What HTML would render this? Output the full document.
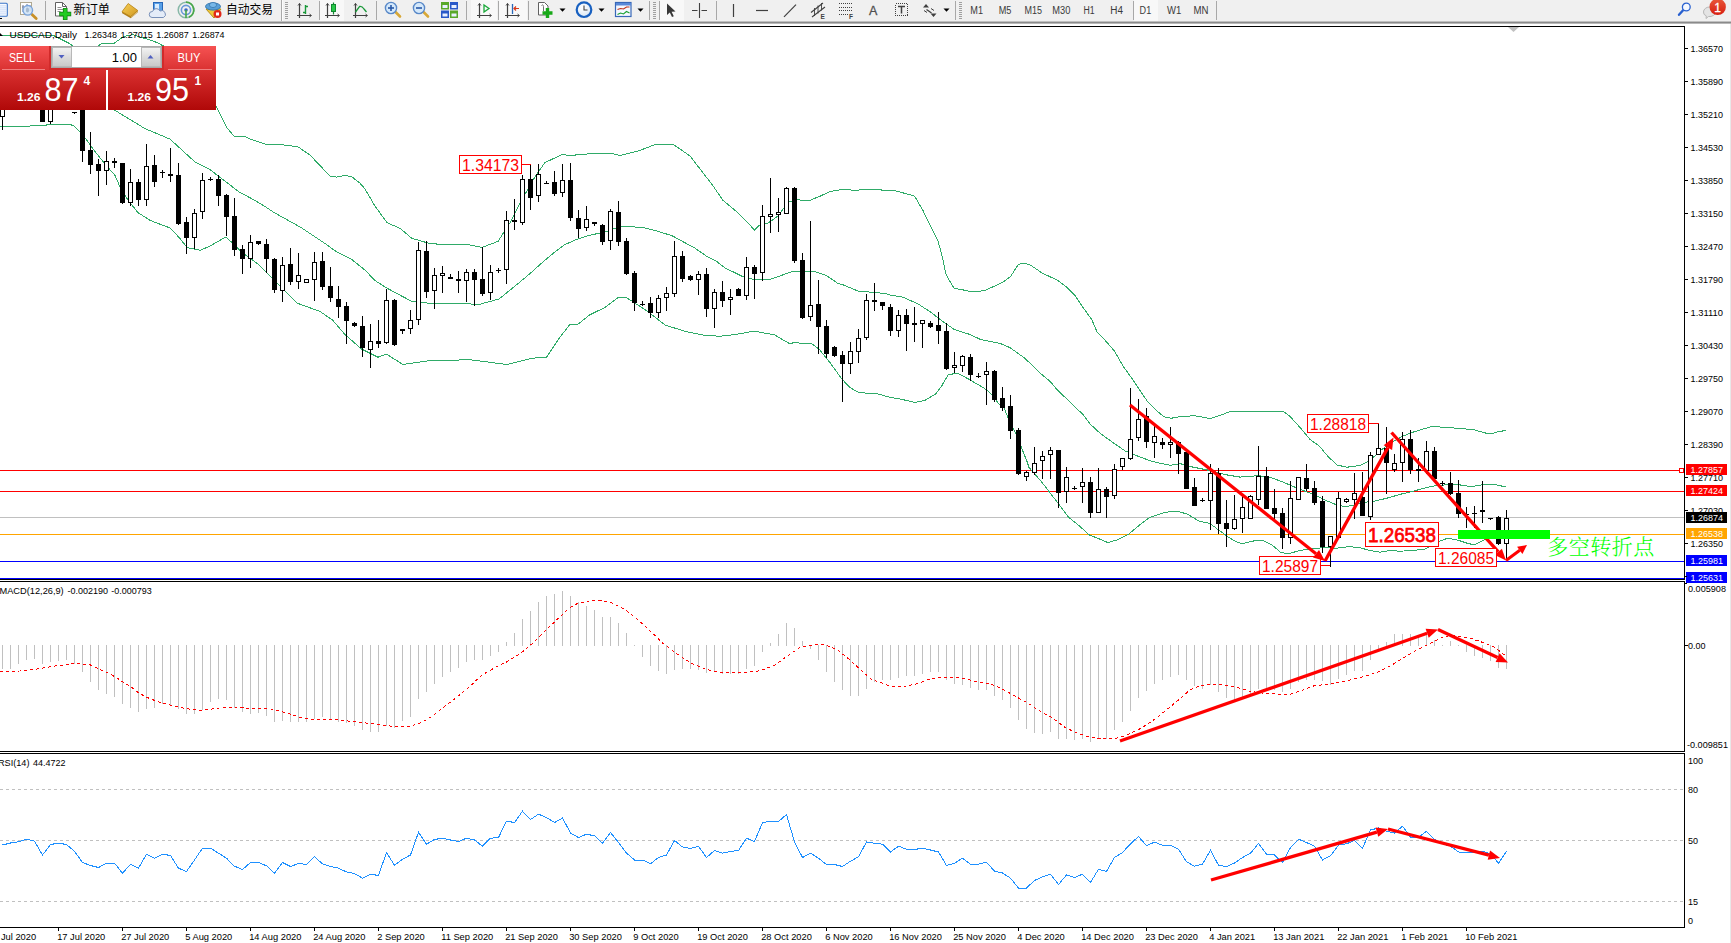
<!DOCTYPE html>
<html lang="zh"><head><meta charset="utf-8"><title>USDCAD Daily</title>
<style>
html,body{margin:0;padding:0;background:#fff;}
body{width:1731px;height:943px;overflow:hidden;font-family:"Liberation Sans","Noto Sans CJK SC",sans-serif;}
svg{display:block;position:absolute;left:0;top:0;}
text{font-family:"Liberation Sans","Noto Sans CJK SC",sans-serif;}
.ax{font-size:9px;fill:#000;}
.tf{font-size:10px;fill:#3a3a3a;}
.cj{font-family:"Liberation Sans","Noto Sans CJK SC",sans-serif;font-size:12px;fill:#000;}
.lbl{fill:#ff0000;}
.crisp{shape-rendering:crispEdges;}
</style></head><body>
<svg width="1731" height="943" viewBox="0 0 1731 943">
<defs>
<linearGradient id="gSell" x1="0" y1="0" x2="0" y2="1"><stop offset="0" stop-color="#f65252"/><stop offset="1" stop-color="#da3232"/></linearGradient>
<linearGradient id="gPrice" x1="0" y1="0" x2="0" y2="1"><stop offset="0" stop-color="#d93030"/><stop offset="1" stop-color="#b00808"/></linearGradient>
<linearGradient id="gBtn" x1="0" y1="0" x2="0" y2="1"><stop offset="0" stop-color="#f4f4f4"/><stop offset="0.5" stop-color="#dcdcdc"/><stop offset="1" stop-color="#c8c8c8"/></linearGradient>
<linearGradient id="gBadge" x1="0" y1="0" x2="0" y2="1"><stop offset="0" stop-color="#e8583a"/><stop offset="1" stop-color="#d81e10"/></linearGradient>
<linearGradient id="gBook" x1="0" y1="0" x2="1" y2="1"><stop offset="0" stop-color="#f8d058"/><stop offset="1" stop-color="#d09820"/></linearGradient>
<radialGradient id="gClock" cx="0.4" cy="0.35" r="0.7"><stop offset="0" stop-color="#ffffff"/><stop offset="1" stop-color="#d8e6f4"/></radialGradient>
</defs>
<rect x="0" y="0" width="1731" height="943" fill="#ffffff"/>

<g id="main">
<g class="crisp">
<rect x="0" y="470" width="1684" height="1" fill="#ff0000" />
<rect x="0" y="491" width="1684" height="1" fill="#ff0000" />
<rect x="0" y="517" width="1684" height="1" fill="#c0c0c0" />
<rect x="0" y="534" width="1684" height="1" fill="#ffa500" />
<rect x="0" y="561" width="1684" height="1" fill="#0000ff" />
<rect x="0" y="578" width="1684" height="1" fill="#0000ff" />
</g>
<polyline points="0.0,35.3 53.0,35.3 69.0,43.3 74.0,46.6 97.0,46.6 102.0,43.3 114.0,43.3 123.6,36.6 133.0,34.6 143.5,38.0 154.0,41.3 158.8,43.5 180.0,55.0 200.0,78.0 212.0,98.0 218.0,109.6 227.0,128.0 234.0,136.0 245.0,136.5 250.0,139.1 265.0,144.0 282.0,144.7 298.0,146.8 310.0,155.1 322.0,167.6 330.0,176.3 337.0,177.1 345.0,175.3 352.0,176.9 360.0,183.2 365.0,189.0 375.0,206.1 387.0,222.7 400.0,228.3 412.0,238.5 420.0,240.6 430.0,243.7 447.0,244.5 465.0,244.1 482.0,247.4 498.0,241.4 510.0,222.7 520.0,202.9 535.0,176.9 545.0,162.4 552.0,159.3 562.0,154.5 570.0,155.5 590.0,153.7 612.0,153.5 620.0,155.4 640.0,150.4 655.0,144.6 673.6,144.6 690.0,156.0 713.0,185.8 722.9,200.3 738.0,212.8 754.5,229.9 759.0,225.3 768.0,223.2 778.0,215.9 788.0,202.4 796.0,199.9 810.0,200.3 820.0,196.2 830.0,191.6 842.0,189.5 856.0,190.3 865.0,189.5 894.0,190.4 905.0,193.4 914.6,196.1 923.0,210.6 931.0,226.8 938.0,241.2 942.0,255.6 945.8,273.6 948.0,278.2 954.0,288.3 962.0,289.7 969.2,291.2 980.0,291.2 986.0,290.0 1003.0,282.2 1010.7,276.3 1018.4,264.3 1025.0,263.2 1031.4,265.7 1042.2,273.1 1057.6,280.3 1066.6,287.2 1075.6,296.2 1082.0,306.1 1091.8,319.6 1097.2,332.2 1104.4,339.5 1114.5,351.1 1122.8,365.7 1133.2,380.2 1140.0,390.4 1147.0,400.8 1156.0,410.2 1164.0,416.8 1171.0,418.3 1181.0,416.4 1195.0,415.8 1210.0,418.5 1220.0,415.4 1230.0,411.6 1250.0,411.2 1283.0,411.2 1290.0,416.4 1300.0,427.4 1310.0,439.5 1319.0,445.7 1328.0,456.5 1337.0,465.0 1347.0,467.2 1360.0,465.5 1370.0,460.5 1381.0,450.1 1391.0,442.8 1402.0,436.6 1410.0,433.1 1425.0,428.5 1433.0,426.2 1442.0,427.2 1458.0,428.3 1474.0,429.7 1483.0,432.4 1490.0,434.1 1498.0,431.8 1506.0,430.4" fill="none" stroke="#2fab68" stroke-width="1" shape-rendering="crispEdges"/>
<polyline points="105.0,104.0 118.0,112.2 145.0,128.6 170.0,139.1 195.0,162.0 210.0,169.7 220.0,177.3 240.0,192.6 250.0,197.7 262.0,204.6 275.0,213.1 300.0,226.9 325.0,243.5 335.0,250.8 352.0,259.7 365.0,270.1 375.0,280.5 387.0,288.2 411.0,301.0 428.0,303.1 480.0,304.2 499.0,299.0 515.0,286.1 530.0,273.6 545.0,260.1 557.0,250.3 565.0,244.5 578.0,238.9 590.0,235.2 607.0,231.5 620.0,226.3 643.0,227.4 657.0,231.1 672.0,235.7 695.0,248.2 707.0,256.5 717.0,261.7 725.0,267.9 742.0,276.2 755.0,280.0 770.0,279.4 779.0,276.4 790.0,272.1 800.0,271.3 815.0,271.7 826.0,275.2 838.0,283.5 842.0,284.4 858.0,291.0 872.0,292.3 886.0,293.5 890.0,295.0 903.0,297.2 907.0,299.1 917.0,303.3 930.0,311.6 942.0,321.0 954.0,329.3 970.0,334.5 981.0,339.7 1000.0,343.4 1010.0,347.6 1025.0,358.4 1040.0,372.9 1050.0,381.3 1057.0,389.6 1070.0,402.0 1083.0,414.6 1090.0,423.9 1100.0,433.2 1113.0,442.6 1125.0,450.9 1135.0,455.1 1150.0,460.7 1160.0,463.2 1170.0,465.3 1180.0,463.6 1192.0,466.9 1210.0,470.5 1225.0,474.6 1240.0,477.1 1258.0,475.7 1270.0,477.1 1285.0,482.9 1300.0,489.4 1313.0,494.1 1325.0,500.0 1337.0,505.1 1346.0,506.7 1356.0,504.6 1365.0,502.3 1375.0,501.1 1388.0,497.9 1400.0,494.4 1415.0,490.7 1425.0,488.0 1435.0,485.7 1445.0,484.9 1458.0,484.6 1470.0,486.5 1478.0,485.7 1486.0,484.0 1492.0,484.0 1500.0,485.7 1506.0,486.9" fill="none" stroke="#2fab68" stroke-width="1" shape-rendering="crispEdges"/>
<polyline points="0.0,126.5 43.0,125.8 50.0,124.2 69.0,124.2 74.0,125.8 84.0,136.3 95.0,151.5 105.0,164.0 115.0,175.4 120.0,186.9 128.0,200.2 138.0,212.6 150.0,220.3 162.0,225.0 170.0,227.9 180.0,238.4 187.0,247.6 200.0,250.3 210.0,246.1 226.0,236.9 243.0,253.2 257.4,263.6 272.0,278.2 297.0,303.1 319.8,311.4 332.3,319.8 344.8,334.3 361.4,348.9 378.0,357.2 386.4,354.1 403.0,364.5 428.0,360.9 469.6,359.7 507.0,364.5 532.0,358.2 546.5,357.2 559.0,338.5 569.4,325.0 578.0,324.2 590.0,314.7 605.0,307.4 618.0,297.6 626.0,297.4 632.0,301.2 648.0,311.6 665.0,325.0 685.0,331.3 705.0,335.5 720.0,336.2 735.0,334.5 743.0,333.2 754.0,331.1 775.0,335.0 783.0,340.0 790.0,343.8 795.0,342.2 803.0,343.8 811.0,343.2 819.0,349.0 830.0,362.6 842.0,379.2 850.0,387.5 859.0,392.7 877.0,393.7 890.0,397.3 902.0,399.4 915.0,402.5 925.0,400.4 936.0,393.7 942.0,385.4 948.0,375.0 957.0,373.0 967.0,378.2 983.0,387.5 990.0,392.7 1000.0,405.2 1004.0,408.0 1009.0,419.8 1014.6,431.0 1018.0,438.5 1022.0,449.0 1027.0,461.4 1029.0,467.4 1041.6,481.9 1056.0,500.6 1068.6,517.3 1079.0,525.6 1089.4,535.0 1099.8,539.1 1108.0,542.6 1116.5,540.1 1129.0,533.9 1141.4,523.5 1149.8,517.3 1164.3,512.5 1176.8,511.0 1187.2,514.1 1199.7,521.4 1210.0,523.5 1218.4,529.8 1226.7,536.0 1235.0,541.2 1242.3,543.9 1251.7,541.2 1262.0,540.1 1272.5,545.3 1280.8,552.6 1289.0,553.7 1299.5,550.5 1312.0,548.7 1324.5,547.6 1337.0,548.2 1349.4,546.6 1360.0,547.8 1370.0,550.5 1380.0,552.2 1390.0,550.5 1400.0,551.2 1413.0,550.5 1425.0,549.1 1433.0,544.7 1441.0,540.6 1448.0,538.1 1458.0,540.2 1468.0,543.5 1474.0,544.7 1480.0,542.2 1486.0,538.7 1496.0,536.0 1506.0,535.0" fill="none" stroke="#2fab68" stroke-width="1" shape-rendering="crispEdges"/>
<g class="crisp">
<rect x="2" y="100" width="1" height="30" fill="#000" />
<rect x="0.5" y="105.5" width="4" height="11" fill="#fff" stroke="#000" stroke-width="1"/>
<rect x="42" y="105" width="1" height="17" fill="#000" />
<rect x="40" y="105" width="5" height="17" fill="#000" />
<rect x="50" y="105" width="1" height="19" fill="#000" />
<rect x="48.5" y="105.5" width="4" height="16" fill="#fff" stroke="#000" stroke-width="1"/>
<rect x="74" y="112" width="1" height="2" fill="#000" />
<rect x="72" y="112" width="5" height="1" fill="#000" />
<rect x="82" y="100" width="1" height="62" fill="#000" />
<rect x="80" y="100" width="5" height="51" fill="#000" />
<rect x="90" y="132" width="1" height="42" fill="#000" />
<rect x="88" y="150" width="5" height="15" fill="#000" />
<rect x="98" y="159" width="1" height="37" fill="#000" />
<rect x="96" y="164" width="5" height="7" fill="#000" />
<rect x="106" y="151" width="1" height="34" fill="#000" />
<rect x="104.5" y="161.5" width="4" height="9" fill="#fff" stroke="#000" stroke-width="1"/>
<rect x="114" y="158" width="1" height="10" fill="#000" />
<rect x="112" y="161" width="5" height="2" fill="#000" />
<rect x="122" y="163" width="1" height="41" fill="#000" />
<rect x="120" y="163" width="5" height="40" fill="#000" />
<rect x="130" y="169" width="1" height="37" fill="#000" />
<rect x="128.5" y="182.5" width="4" height="20" fill="#fff" stroke="#000" stroke-width="1"/>
<rect x="138" y="179" width="1" height="27" fill="#000" />
<rect x="136" y="182" width="5" height="18" fill="#000" />
<rect x="146" y="144" width="1" height="62" fill="#000" />
<rect x="144.5" y="166.5" width="4" height="33" fill="#fff" stroke="#000" stroke-width="1"/>
<rect x="154" y="155" width="1" height="32" fill="#000" />
<rect x="152" y="165" width="5" height="17" fill="#000" />
<rect x="162" y="170" width="1" height="8" fill="#000" />
<rect x="160" y="172" width="5" height="1" fill="#000" />
<rect x="170" y="148" width="1" height="34" fill="#000" />
<rect x="168" y="174" width="5" height="2" fill="#000" />
<rect x="178" y="163" width="1" height="62" fill="#000" />
<rect x="176" y="175" width="5" height="49" fill="#000" />
<rect x="186" y="217" width="1" height="37" fill="#000" />
<rect x="184" y="222" width="5" height="16" fill="#000" />
<rect x="194" y="209" width="1" height="40" fill="#000" />
<rect x="192.5" y="213.5" width="4" height="24" fill="#fff" stroke="#000" stroke-width="1"/>
<rect x="202" y="173" width="1" height="46" fill="#000" />
<rect x="200.5" y="180.5" width="4" height="31" fill="#fff" stroke="#000" stroke-width="1"/>
<rect x="210" y="177" width="1" height="4" fill="#000" />
<rect x="208" y="179" width="5" height="1" fill="#000" />
<rect x="218" y="175" width="1" height="31" fill="#000" />
<rect x="216" y="179" width="5" height="17" fill="#000" />
<rect x="226" y="194" width="1" height="42" fill="#000" />
<rect x="224" y="195" width="5" height="22" fill="#000" />
<rect x="234" y="198" width="1" height="58" fill="#000" />
<rect x="232" y="216" width="5" height="34" fill="#000" />
<rect x="242" y="245" width="1" height="29" fill="#000" />
<rect x="240" y="249" width="5" height="10" fill="#000" />
<rect x="250" y="235" width="1" height="33" fill="#000" />
<rect x="248.5" y="242.5" width="4" height="16" fill="#fff" stroke="#000" stroke-width="1"/>
<rect x="258" y="241" width="1" height="4" fill="#000" />
<rect x="256" y="241" width="5" height="3" fill="#000" />
<rect x="266" y="239" width="1" height="34" fill="#000" />
<rect x="264" y="244" width="5" height="15" fill="#000" />
<rect x="274" y="258" width="1" height="35" fill="#000" />
<rect x="272" y="259" width="5" height="31" fill="#000" />
<rect x="282" y="257" width="1" height="45" fill="#000" />
<rect x="280.5" y="265.5" width="4" height="25" fill="#fff" stroke="#000" stroke-width="1"/>
<rect x="290" y="248" width="1" height="37" fill="#000" />
<rect x="288" y="264" width="5" height="18" fill="#000" />
<rect x="298" y="253" width="1" height="36" fill="#000" />
<rect x="296.5" y="275.5" width="4" height="6" fill="#fff" stroke="#000" stroke-width="1"/>
<rect x="306" y="279" width="1" height="4" fill="#000" />
<rect x="304.5" y="279.5" width="4" height="3" fill="#fff" stroke="#000" stroke-width="1"/>
<rect x="314" y="252" width="1" height="49" fill="#000" />
<rect x="312.5" y="262.5" width="4" height="17" fill="#fff" stroke="#000" stroke-width="1"/>
<rect x="322" y="252" width="1" height="38" fill="#000" />
<rect x="320" y="261" width="5" height="26" fill="#000" />
<rect x="330" y="267" width="1" height="35" fill="#000" />
<rect x="328" y="286" width="5" height="12" fill="#000" />
<rect x="338" y="286" width="1" height="32" fill="#000" />
<rect x="336" y="299" width="5" height="8" fill="#000" />
<rect x="346" y="302" width="1" height="42" fill="#000" />
<rect x="344" y="306" width="5" height="15" fill="#000" />
<rect x="354" y="322" width="1" height="5" fill="#000" />
<rect x="352" y="323" width="5" height="3" fill="#000" />
<rect x="362" y="316" width="1" height="41" fill="#000" />
<rect x="360" y="326" width="5" height="22" fill="#000" />
<rect x="370" y="324" width="1" height="44" fill="#000" />
<rect x="368.5" y="341.5" width="4" height="8" fill="#fff" stroke="#000" stroke-width="1"/>
<rect x="378" y="320" width="1" height="28" fill="#000" />
<rect x="376" y="341" width="5" height="3" fill="#000" />
<rect x="386" y="289" width="1" height="55" fill="#000" />
<rect x="384.5" y="300.5" width="4" height="42" fill="#fff" stroke="#000" stroke-width="1"/>
<rect x="394" y="299" width="1" height="47" fill="#000" />
<rect x="392" y="300" width="5" height="45" fill="#000" />
<rect x="402" y="329" width="1" height="5" fill="#000" />
<rect x="400" y="329" width="5" height="2" fill="#000" />
<rect x="410" y="310" width="1" height="24" fill="#000" />
<rect x="408.5" y="320.5" width="4" height="8" fill="#fff" stroke="#000" stroke-width="1"/>
<rect x="418" y="242" width="1" height="83" fill="#000" />
<rect x="416.5" y="250.5" width="4" height="69" fill="#fff" stroke="#000" stroke-width="1"/>
<rect x="426" y="241" width="1" height="57" fill="#000" />
<rect x="424" y="251" width="5" height="41" fill="#000" />
<rect x="434" y="268" width="1" height="41" fill="#000" />
<rect x="432.5" y="275.5" width="4" height="15" fill="#fff" stroke="#000" stroke-width="1"/>
<rect x="442" y="266" width="1" height="27" fill="#000" />
<rect x="440.5" y="273.5" width="4" height="2" fill="#fff" stroke="#000" stroke-width="1"/>
<rect x="450" y="274" width="1" height="5" fill="#000" />
<rect x="448" y="277" width="5" height="2" fill="#000" />
<rect x="458" y="271" width="1" height="22" fill="#000" />
<rect x="456" y="279" width="5" height="2" fill="#000" />
<rect x="466" y="269" width="1" height="33" fill="#000" />
<rect x="464.5" y="272.5" width="4" height="8" fill="#fff" stroke="#000" stroke-width="1"/>
<rect x="474" y="269" width="1" height="37" fill="#000" />
<rect x="472" y="272" width="5" height="8" fill="#000" />
<rect x="482" y="247" width="1" height="49" fill="#000" />
<rect x="480" y="279" width="5" height="15" fill="#000" />
<rect x="490" y="265" width="1" height="35" fill="#000" />
<rect x="488.5" y="272.5" width="4" height="20" fill="#fff" stroke="#000" stroke-width="1"/>
<rect x="498" y="268" width="1" height="5" fill="#000" />
<rect x="496" y="270" width="5" height="1" fill="#000" />
<rect x="506" y="211" width="1" height="73" fill="#000" />
<rect x="504.5" y="220.5" width="4" height="49" fill="#fff" stroke="#000" stroke-width="1"/>
<rect x="514" y="199" width="1" height="31" fill="#000" />
<rect x="512" y="220" width="5" height="2" fill="#000" />
<rect x="522" y="175" width="1" height="50" fill="#000" />
<rect x="520.5" y="179.5" width="4" height="43" fill="#fff" stroke="#000" stroke-width="1"/>
<rect x="530" y="164" width="1" height="46" fill="#000" />
<rect x="528" y="179" width="5" height="19" fill="#000" />
<rect x="538" y="164" width="1" height="38" fill="#000" />
<rect x="536.5" y="174.5" width="4" height="21" fill="#fff" stroke="#000" stroke-width="1"/>
<rect x="546" y="181" width="1" height="3" fill="#000" />
<rect x="544" y="183" width="5" height="1" fill="#000" />
<rect x="554" y="171" width="1" height="25" fill="#000" />
<rect x="552" y="182" width="5" height="12" fill="#000" />
<rect x="562" y="164" width="1" height="33" fill="#000" />
<rect x="560.5" y="180.5" width="4" height="12" fill="#fff" stroke="#000" stroke-width="1"/>
<rect x="570" y="163" width="1" height="58" fill="#000" />
<rect x="568" y="180" width="5" height="38" fill="#000" />
<rect x="578" y="210" width="1" height="28" fill="#000" />
<rect x="576" y="218" width="5" height="11" fill="#000" />
<rect x="586" y="206" width="1" height="25" fill="#000" />
<rect x="584.5" y="219.5" width="4" height="8" fill="#fff" stroke="#000" stroke-width="1"/>
<rect x="594" y="222" width="1" height="4" fill="#000" />
<rect x="592" y="222" width="5" height="2" fill="#000" />
<rect x="602" y="224" width="1" height="21" fill="#000" />
<rect x="600" y="225" width="5" height="17" fill="#000" />
<rect x="610" y="209" width="1" height="41" fill="#000" />
<rect x="608.5" y="211.5" width="4" height="29" fill="#fff" stroke="#000" stroke-width="1"/>
<rect x="618" y="201" width="1" height="45" fill="#000" />
<rect x="616" y="212" width="5" height="30" fill="#000" />
<rect x="626" y="238" width="1" height="37" fill="#000" />
<rect x="624" y="241" width="5" height="33" fill="#000" />
<rect x="634" y="271" width="1" height="40" fill="#000" />
<rect x="632" y="273" width="5" height="30" fill="#000" />
<rect x="642" y="301" width="1" height="5" fill="#000" />
<rect x="640" y="304" width="5" height="1" fill="#000" />
<rect x="650" y="297" width="1" height="21" fill="#000" />
<rect x="648" y="303" width="5" height="10" fill="#000" />
<rect x="658" y="295" width="1" height="23" fill="#000" />
<rect x="656.5" y="298.5" width="4" height="14" fill="#fff" stroke="#000" stroke-width="1"/>
<rect x="666" y="287" width="1" height="24" fill="#000" />
<rect x="664.5" y="293.5" width="4" height="4" fill="#fff" stroke="#000" stroke-width="1"/>
<rect x="674" y="241" width="1" height="56" fill="#000" />
<rect x="672.5" y="256.5" width="4" height="37" fill="#fff" stroke="#000" stroke-width="1"/>
<rect x="682" y="251" width="1" height="31" fill="#000" />
<rect x="680" y="256" width="5" height="23" fill="#000" />
<rect x="690" y="275" width="1" height="6" fill="#000" />
<rect x="688" y="276" width="5" height="4" fill="#000" />
<rect x="698" y="271" width="1" height="24" fill="#000" />
<rect x="696.5" y="274.5" width="4" height="5" fill="#fff" stroke="#000" stroke-width="1"/>
<rect x="706" y="268" width="1" height="49" fill="#000" />
<rect x="704" y="274" width="5" height="35" fill="#000" />
<rect x="714" y="289" width="1" height="39" fill="#000" />
<rect x="712.5" y="292.5" width="4" height="16" fill="#fff" stroke="#000" stroke-width="1"/>
<rect x="722" y="281" width="1" height="26" fill="#000" />
<rect x="720" y="292" width="5" height="9" fill="#000" />
<rect x="730" y="289" width="1" height="26" fill="#000" />
<rect x="728.5" y="297.5" width="4" height="2" fill="#fff" stroke="#000" stroke-width="1"/>
<rect x="738" y="288" width="1" height="8" fill="#000" />
<rect x="736" y="289" width="5" height="7" fill="#000" />
<rect x="746" y="257" width="1" height="43" fill="#000" />
<rect x="744.5" y="267.5" width="4" height="28" fill="#fff" stroke="#000" stroke-width="1"/>
<rect x="754" y="265" width="1" height="34" fill="#000" />
<rect x="752" y="267" width="5" height="7" fill="#000" />
<rect x="762" y="205" width="1" height="76" fill="#000" />
<rect x="760.5" y="216.5" width="4" height="56" fill="#fff" stroke="#000" stroke-width="1"/>
<rect x="770" y="178" width="1" height="55" fill="#000" />
<rect x="768.5" y="214.5" width="4" height="2" fill="#fff" stroke="#000" stroke-width="1"/>
<rect x="778" y="198" width="1" height="34" fill="#000" />
<rect x="776.5" y="212.5" width="4" height="2" fill="#fff" stroke="#000" stroke-width="1"/>
<rect x="786" y="187" width="1" height="27" fill="#000" />
<rect x="784.5" y="188.5" width="4" height="25" fill="#fff" stroke="#000" stroke-width="1"/>
<rect x="794" y="187" width="1" height="76" fill="#000" />
<rect x="792" y="188" width="5" height="73" fill="#000" />
<rect x="802" y="253" width="1" height="66" fill="#000" />
<rect x="800" y="260" width="5" height="58" fill="#000" />
<rect x="810" y="221" width="1" height="100" fill="#000" />
<rect x="808.5" y="305.5" width="4" height="11" fill="#fff" stroke="#000" stroke-width="1"/>
<rect x="818" y="280" width="1" height="74" fill="#000" />
<rect x="816" y="304" width="5" height="23" fill="#000" />
<rect x="826" y="320" width="1" height="38" fill="#000" />
<rect x="824" y="326" width="5" height="28" fill="#000" />
<rect x="834" y="346" width="1" height="11" fill="#000" />
<rect x="832" y="347" width="5" height="9" fill="#000" />
<rect x="842" y="351" width="1" height="51" fill="#000" />
<rect x="840" y="355" width="5" height="9" fill="#000" />
<rect x="850" y="342" width="1" height="32" fill="#000" />
<rect x="848.5" y="351.5" width="4" height="12" fill="#fff" stroke="#000" stroke-width="1"/>
<rect x="858" y="329" width="1" height="34" fill="#000" />
<rect x="856.5" y="338.5" width="4" height="13" fill="#fff" stroke="#000" stroke-width="1"/>
<rect x="866" y="294" width="1" height="46" fill="#000" />
<rect x="864.5" y="300.5" width="4" height="37" fill="#fff" stroke="#000" stroke-width="1"/>
<rect x="874" y="283" width="1" height="28" fill="#000" />
<rect x="872" y="300" width="5" height="2" fill="#000" />
<rect x="882" y="302" width="1" height="8" fill="#000" />
<rect x="880" y="302" width="5" height="4" fill="#000" />
<rect x="890" y="304" width="1" height="32" fill="#000" />
<rect x="888" y="307" width="5" height="24" fill="#000" />
<rect x="898" y="310" width="1" height="27" fill="#000" />
<rect x="896.5" y="315.5" width="4" height="15" fill="#fff" stroke="#000" stroke-width="1"/>
<rect x="906" y="309" width="1" height="42" fill="#000" />
<rect x="904" y="315" width="5" height="9" fill="#000" />
<rect x="914" y="307" width="1" height="35" fill="#000" />
<rect x="912" y="323" width="5" height="2" fill="#000" />
<rect x="922" y="320" width="1" height="28" fill="#000" />
<rect x="920.5" y="320.5" width="4" height="3" fill="#fff" stroke="#000" stroke-width="1"/>
<rect x="930" y="321" width="1" height="7" fill="#000" />
<rect x="928" y="323" width="5" height="4" fill="#000" />
<rect x="938" y="312" width="1" height="32" fill="#000" />
<rect x="936" y="325" width="5" height="6" fill="#000" />
<rect x="946" y="323" width="1" height="47" fill="#000" />
<rect x="944" y="331" width="5" height="38" fill="#000" />
<rect x="954" y="352" width="1" height="21" fill="#000" />
<rect x="952.5" y="365.5" width="4" height="2" fill="#fff" stroke="#000" stroke-width="1"/>
<rect x="962" y="355" width="1" height="17" fill="#000" />
<rect x="960.5" y="356.5" width="4" height="9" fill="#fff" stroke="#000" stroke-width="1"/>
<rect x="970" y="354" width="1" height="27" fill="#000" />
<rect x="968" y="357" width="5" height="18" fill="#000" />
<rect x="978" y="373" width="1" height="5" fill="#000" />
<rect x="976" y="376" width="5" height="1" fill="#000" />
<rect x="986" y="362" width="1" height="43" fill="#000" />
<rect x="984.5" y="371.5" width="4" height="3" fill="#fff" stroke="#000" stroke-width="1"/>
<rect x="994" y="370" width="1" height="32" fill="#000" />
<rect x="992" y="371" width="5" height="29" fill="#000" />
<rect x="1002" y="387" width="1" height="24" fill="#000" />
<rect x="1000" y="398" width="5" height="10" fill="#000" />
<rect x="1010" y="395" width="1" height="44" fill="#000" />
<rect x="1008" y="406" width="5" height="25" fill="#000" />
<rect x="1018" y="428" width="1" height="47" fill="#000" />
<rect x="1016" y="430" width="5" height="44" fill="#000" />
<rect x="1026" y="471" width="1" height="10" fill="#000" />
<rect x="1024.5" y="472.5" width="4" height="4" fill="#fff" stroke="#000" stroke-width="1"/>
<rect x="1034" y="447" width="1" height="28" fill="#000" />
<rect x="1032.5" y="463.5" width="4" height="9" fill="#fff" stroke="#000" stroke-width="1"/>
<rect x="1042" y="451" width="1" height="28" fill="#000" />
<rect x="1040.5" y="456.5" width="4" height="4" fill="#fff" stroke="#000" stroke-width="1"/>
<rect x="1050" y="447" width="1" height="32" fill="#000" />
<rect x="1048.5" y="450.5" width="4" height="4" fill="#fff" stroke="#000" stroke-width="1"/>
<rect x="1058" y="450" width="1" height="58" fill="#000" />
<rect x="1056" y="450" width="5" height="43" fill="#000" />
<rect x="1066" y="467" width="1" height="36" fill="#000" />
<rect x="1064.5" y="477.5" width="4" height="14" fill="#fff" stroke="#000" stroke-width="1"/>
<rect x="1074" y="486" width="1" height="4" fill="#000" />
<rect x="1072" y="488" width="5" height="1" fill="#000" />
<rect x="1082" y="468" width="1" height="35" fill="#000" />
<rect x="1080.5" y="482.5" width="4" height="4" fill="#fff" stroke="#000" stroke-width="1"/>
<rect x="1090" y="477" width="1" height="41" fill="#000" />
<rect x="1088" y="482" width="5" height="31" fill="#000" />
<rect x="1098" y="468" width="1" height="45" fill="#000" />
<rect x="1096.5" y="489.5" width="4" height="23" fill="#fff" stroke="#000" stroke-width="1"/>
<rect x="1106" y="487" width="1" height="31" fill="#000" />
<rect x="1104" y="489" width="5" height="8" fill="#000" />
<rect x="1114" y="464" width="1" height="35" fill="#000" />
<rect x="1112.5" y="469.5" width="4" height="26" fill="#fff" stroke="#000" stroke-width="1"/>
<rect x="1122" y="458" width="1" height="12" fill="#000" />
<rect x="1120.5" y="458.5" width="4" height="8" fill="#fff" stroke="#000" stroke-width="1"/>
<rect x="1130" y="388" width="1" height="72" fill="#000" />
<rect x="1128.5" y="439.5" width="4" height="19" fill="#fff" stroke="#000" stroke-width="1"/>
<rect x="1138" y="399" width="1" height="42" fill="#000" />
<rect x="1136.5" y="419.5" width="4" height="18" fill="#fff" stroke="#000" stroke-width="1"/>
<rect x="1146" y="408" width="1" height="40" fill="#000" />
<rect x="1144" y="416" width="5" height="26" fill="#000" />
<rect x="1154" y="426" width="1" height="32" fill="#000" />
<rect x="1152.5" y="436.5" width="4" height="6" fill="#fff" stroke="#000" stroke-width="1"/>
<rect x="1162" y="438" width="1" height="11" fill="#000" />
<rect x="1160" y="442" width="5" height="3" fill="#000" />
<rect x="1170" y="427" width="1" height="31" fill="#000" />
<rect x="1168.5" y="442.5" width="4" height="2" fill="#fff" stroke="#000" stroke-width="1"/>
<rect x="1178" y="441" width="1" height="33" fill="#000" />
<rect x="1176" y="442" width="5" height="12" fill="#000" />
<rect x="1186" y="450" width="1" height="39" fill="#000" />
<rect x="1184" y="452" width="5" height="37" fill="#000" />
<rect x="1194" y="478" width="1" height="28" fill="#000" />
<rect x="1192" y="487" width="5" height="19" fill="#000" />
<rect x="1202" y="498" width="1" height="4" fill="#000" />
<rect x="1200" y="500" width="5" height="1" fill="#000" />
<rect x="1210" y="464" width="1" height="66" fill="#000" />
<rect x="1208.5" y="473.5" width="4" height="27" fill="#fff" stroke="#000" stroke-width="1"/>
<rect x="1218" y="468" width="1" height="66" fill="#000" />
<rect x="1216" y="473" width="5" height="51" fill="#000" />
<rect x="1226" y="500" width="1" height="47" fill="#000" />
<rect x="1224" y="523" width="5" height="6" fill="#000" />
<rect x="1234" y="495" width="1" height="35" fill="#000" />
<rect x="1232.5" y="519.5" width="4" height="9" fill="#fff" stroke="#000" stroke-width="1"/>
<rect x="1242" y="494" width="1" height="39" fill="#000" />
<rect x="1240.5" y="507.5" width="4" height="11" fill="#fff" stroke="#000" stroke-width="1"/>
<rect x="1250" y="495" width="1" height="24" fill="#000" />
<rect x="1248.5" y="496.5" width="4" height="22" fill="#fff" stroke="#000" stroke-width="1"/>
<rect x="1258" y="446" width="1" height="59" fill="#000" />
<rect x="1256.5" y="476.5" width="4" height="23" fill="#fff" stroke="#000" stroke-width="1"/>
<rect x="1266" y="467" width="1" height="42" fill="#000" />
<rect x="1264" y="476" width="5" height="33" fill="#000" />
<rect x="1274" y="489" width="1" height="32" fill="#000" />
<rect x="1272" y="508" width="5" height="6" fill="#000" />
<rect x="1282" y="508" width="1" height="41" fill="#000" />
<rect x="1280" y="513" width="5" height="25" fill="#000" />
<rect x="1290" y="481" width="1" height="63" fill="#000" />
<rect x="1288.5" y="498.5" width="4" height="39" fill="#fff" stroke="#000" stroke-width="1"/>
<rect x="1298" y="477" width="1" height="23" fill="#000" />
<rect x="1296.5" y="477.5" width="4" height="22" fill="#fff" stroke="#000" stroke-width="1"/>
<rect x="1306" y="464" width="1" height="27" fill="#000" />
<rect x="1304" y="478" width="5" height="11" fill="#000" />
<rect x="1314" y="481" width="1" height="24" fill="#000" />
<rect x="1312" y="488" width="5" height="15" fill="#000" />
<rect x="1322" y="496" width="1" height="57" fill="#000" />
<rect x="1320" y="501" width="5" height="46" fill="#000" />
<rect x="1330" y="536" width="1" height="31" fill="#000" />
<rect x="1328.5" y="536.5" width="4" height="10" fill="#fff" stroke="#000" stroke-width="1"/>
<rect x="1338" y="492" width="1" height="46" fill="#000" />
<rect x="1336.5" y="498.5" width="4" height="39" fill="#fff" stroke="#000" stroke-width="1"/>
<rect x="1346" y="498" width="1" height="5" fill="#000" />
<rect x="1344.5" y="499.5" width="4" height="2" fill="#fff" stroke="#000" stroke-width="1"/>
<rect x="1354" y="473" width="1" height="46" fill="#000" />
<rect x="1352.5" y="493.5" width="4" height="6" fill="#fff" stroke="#000" stroke-width="1"/>
<rect x="1362" y="472" width="1" height="44" fill="#000" />
<rect x="1360" y="497" width="5" height="19" fill="#000" />
<rect x="1370" y="452" width="1" height="68" fill="#000" />
<rect x="1368.5" y="455.5" width="4" height="61" fill="#fff" stroke="#000" stroke-width="1"/>
<rect x="1378" y="424" width="1" height="31" fill="#000" />
<rect x="1376.5" y="448.5" width="4" height="6" fill="#fff" stroke="#000" stroke-width="1"/>
<rect x="1386" y="427" width="1" height="67" fill="#000" />
<rect x="1384" y="448" width="5" height="15" fill="#000" />
<rect x="1394" y="454" width="1" height="18" fill="#000" />
<rect x="1392.5" y="463.5" width="4" height="6" fill="#fff" stroke="#000" stroke-width="1"/>
<rect x="1402" y="432" width="1" height="50" fill="#000" />
<rect x="1400.5" y="439.5" width="4" height="23" fill="#fff" stroke="#000" stroke-width="1"/>
<rect x="1410" y="430" width="1" height="44" fill="#000" />
<rect x="1408" y="439" width="5" height="31" fill="#000" />
<rect x="1418" y="458" width="1" height="24" fill="#000" />
<rect x="1416" y="469" width="5" height="2" fill="#000" />
<rect x="1426" y="441" width="1" height="33" fill="#000" />
<rect x="1424.5" y="451.5" width="4" height="19" fill="#fff" stroke="#000" stroke-width="1"/>
<rect x="1434" y="447" width="1" height="32" fill="#000" />
<rect x="1432" y="451" width="5" height="28" fill="#000" />
<rect x="1442" y="481" width="1" height="5" fill="#000" />
<rect x="1440" y="483" width="5" height="1" fill="#000" />
<rect x="1450" y="472" width="1" height="23" fill="#000" />
<rect x="1448" y="483" width="5" height="11" fill="#000" />
<rect x="1458" y="480" width="1" height="38" fill="#000" />
<rect x="1456" y="493" width="5" height="21" fill="#000" />
<rect x="1466" y="507" width="1" height="21" fill="#000" />
<rect x="1464" y="514" width="5" height="1" fill="#000" />
<rect x="1474" y="506" width="1" height="22" fill="#000" />
<rect x="1472" y="513" width="5" height="1" fill="#000" />
<rect x="1482" y="481" width="1" height="42" fill="#000" />
<rect x="1480" y="510" width="5" height="2" fill="#000" />
<rect x="1490" y="518" width="1" height="2" fill="#000" />
<rect x="1488" y="518" width="5" height="1" fill="#000" />
<rect x="1498" y="516" width="1" height="29" fill="#000" />
<rect x="1496" y="517" width="5" height="27" fill="#000" />
<rect x="1506" y="510" width="1" height="50" fill="#000" />
<rect x="1504.5" y="518.5" width="4" height="25" fill="#fff" stroke="#000" stroke-width="1"/>
</g>
</g>
<rect x="459.5" y="155.5" width="62" height="18" fill="#fff" stroke="#ff0000" stroke-width="1" class="crisp"/>
<text x="490.5" y="170.6" font-size="16" class="lbl" text-anchor="middle" textLength="57" lengthAdjust="spacingAndGlyphs">1.34173</text>
<rect x="521" y="164" width="10" height="1" fill="#ff0000" class="crisp"/>
<rect x="1307.5" y="414.5" width="61" height="18" fill="#fff" stroke="#ff0000" stroke-width="1" class="crisp"/>
<text x="1338.0" y="429.6" font-size="16" class="lbl" text-anchor="middle" textLength="56" lengthAdjust="spacingAndGlyphs">1.28818</text>
<rect x="1368" y="423" width="11" height="1" fill="#ff0000" class="crisp"/>
<rect x="1259.5" y="556.5" width="61" height="18" fill="#fff" stroke="#ff0000" stroke-width="1" class="crisp"/>
<text x="1290.0" y="571.6" font-size="16" class="lbl" text-anchor="middle" textLength="56" lengthAdjust="spacingAndGlyphs">1.25897</text>
<rect x="1320" y="565" width="10" height="1" fill="#ff0000" class="crisp"/>
<line x1="1130.0" y1="405.0" x2="1316.0" y2="553.8" stroke="#ff0000" stroke-width="3.3"/>
<polygon points="1325.0,561.0 1313.0,557.6 1319.0,550.1" fill="#ff0000"/>
<line x1="1325.0" y1="561.0" x2="1387.9" y2="447.6" stroke="#ff0000" stroke-width="3.3"/>
<polygon points="1393.5,437.5 1392.1,449.9 1383.7,445.2" fill="#ff0000"/>
<line x1="1391.5" y1="432.5" x2="1498.3" y2="551.9" stroke="#ff0000" stroke-width="3.3"/>
<polygon points="1506.0,560.5 1494.8,555.1 1501.9,548.7" fill="#ff0000"/>
<line x1="1506.0" y1="560.5" x2="1519.8" y2="550.3" stroke="#ff0000" stroke-width="3"/>
<polygon points="1527.0,545.0 1522.4,554.0 1517.1,546.7" fill="#ff0000"/>
<rect x="1365.5" y="522.5" width="73" height="24" fill="#fff" stroke="#ff0000" stroke-width="1" class="crisp"/>
<text x="1402.0" y="542.4" font-size="21" class="lbl" text-anchor="middle" textLength="68" lengthAdjust="spacingAndGlyphs" stroke="#ff0000" stroke-width="0.75">1.26538</text>
<rect x="1435.5" y="548.5" width="61" height="18" fill="#fff" stroke="#ff0000" stroke-width="1" class="crisp"/>
<text x="1466.0" y="563.6" font-size="16" class="lbl" text-anchor="middle" textLength="56" lengthAdjust="spacingAndGlyphs">1.26085</text>
<rect x="1458" y="530" width="92" height="9" fill="#00ff00" class="crisp"/>
<text x="1547.3" y="554" font-size="21" font-weight="300" fill="#00ff00" style="font-family:'Noto Serif CJK SC','Noto Sans CJK SC',serif" textLength="107" lengthAdjust="spacing">多空转折点</text>
<g id="macd" class="crisp">
<rect x="2" y="645" width="1" height="24" fill="#c0c0c0" />
<rect x="10" y="645" width="1" height="24" fill="#c0c0c0" />
<rect x="18" y="645" width="1" height="19" fill="#c0c0c0" />
<rect x="26" y="645" width="1" height="15" fill="#c0c0c0" />
<rect x="34" y="645" width="1" height="14" fill="#c0c0c0" />
<rect x="42" y="645" width="1" height="19" fill="#c0c0c0" />
<rect x="50" y="645" width="1" height="17" fill="#c0c0c0" />
<rect x="58" y="645" width="1" height="16" fill="#c0c0c0" />
<rect x="66" y="645" width="1" height="15" fill="#c0c0c0" />
<rect x="74" y="645" width="1" height="19" fill="#c0c0c0" />
<rect x="82" y="645" width="1" height="27" fill="#c0c0c0" />
<rect x="90" y="645" width="1" height="37" fill="#c0c0c0" />
<rect x="98" y="645" width="1" height="45" fill="#c0c0c0" />
<rect x="106" y="645" width="1" height="49" fill="#c0c0c0" />
<rect x="114" y="645" width="1" height="52" fill="#c0c0c0" />
<rect x="122" y="645" width="1" height="59" fill="#c0c0c0" />
<rect x="130" y="645" width="1" height="63" fill="#c0c0c0" />
<rect x="138" y="645" width="1" height="67" fill="#c0c0c0" />
<rect x="146" y="645" width="1" height="64" fill="#c0c0c0" />
<rect x="154" y="645" width="1" height="63" fill="#c0c0c0" />
<rect x="162" y="645" width="1" height="59" fill="#c0c0c0" />
<rect x="170" y="645" width="1" height="60" fill="#c0c0c0" />
<rect x="178" y="645" width="1" height="64" fill="#c0c0c0" />
<rect x="186" y="645" width="1" height="69" fill="#c0c0c0" />
<rect x="194" y="645" width="1" height="69" fill="#c0c0c0" />
<rect x="202" y="645" width="1" height="65" fill="#c0c0c0" />
<rect x="210" y="645" width="1" height="57" fill="#c0c0c0" />
<rect x="218" y="645" width="1" height="54" fill="#c0c0c0" />
<rect x="226" y="645" width="1" height="55" fill="#c0c0c0" />
<rect x="234" y="645" width="1" height="63" fill="#c0c0c0" />
<rect x="242" y="645" width="1" height="67" fill="#c0c0c0" />
<rect x="250" y="645" width="1" height="69" fill="#c0c0c0" />
<rect x="258" y="645" width="1" height="68" fill="#c0c0c0" />
<rect x="266" y="645" width="1" height="71" fill="#c0c0c0" />
<rect x="274" y="645" width="1" height="77" fill="#c0c0c0" />
<rect x="282" y="645" width="1" height="76" fill="#c0c0c0" />
<rect x="290" y="645" width="1" height="77" fill="#c0c0c0" />
<rect x="298" y="645" width="1" height="77" fill="#c0c0c0" />
<rect x="306" y="645" width="1" height="77" fill="#c0c0c0" />
<rect x="314" y="645" width="1" height="74" fill="#c0c0c0" />
<rect x="322" y="645" width="1" height="72" fill="#c0c0c0" />
<rect x="330" y="645" width="1" height="74" fill="#c0c0c0" />
<rect x="338" y="645" width="1" height="77" fill="#c0c0c0" />
<rect x="346" y="645" width="1" height="78" fill="#c0c0c0" />
<rect x="354" y="645" width="1" height="81" fill="#c0c0c0" />
<rect x="362" y="645" width="1" height="85" fill="#c0c0c0" />
<rect x="370" y="645" width="1" height="87" fill="#c0c0c0" />
<rect x="378" y="645" width="1" height="87" fill="#c0c0c0" />
<rect x="386" y="645" width="1" height="81" fill="#c0c0c0" />
<rect x="394" y="645" width="1" height="83" fill="#c0c0c0" />
<rect x="402" y="645" width="1" height="76" fill="#c0c0c0" />
<rect x="410" y="645" width="1" height="72" fill="#c0c0c0" />
<rect x="418" y="645" width="1" height="54" fill="#c0c0c0" />
<rect x="426" y="645" width="1" height="47" fill="#c0c0c0" />
<rect x="434" y="645" width="1" height="39" fill="#c0c0c0" />
<rect x="442" y="645" width="1" height="32" fill="#c0c0c0" />
<rect x="450" y="645" width="1" height="27" fill="#c0c0c0" />
<rect x="458" y="645" width="1" height="23" fill="#c0c0c0" />
<rect x="466" y="645" width="1" height="17" fill="#c0c0c0" />
<rect x="474" y="645" width="1" height="15" fill="#c0c0c0" />
<rect x="482" y="645" width="1" height="15" fill="#c0c0c0" />
<rect x="490" y="645" width="1" height="11" fill="#c0c0c0" />
<rect x="498" y="645" width="1" height="7" fill="#c0c0c0" />
<rect x="506" y="642" width="1" height="4" fill="#c0c0c0" />
<rect x="514" y="633" width="1" height="13" fill="#c0c0c0" />
<rect x="522" y="619" width="1" height="27" fill="#c0c0c0" />
<rect x="530" y="611" width="1" height="35" fill="#c0c0c0" />
<rect x="538" y="602" width="1" height="44" fill="#c0c0c0" />
<rect x="546" y="596" width="1" height="50" fill="#c0c0c0" />
<rect x="554" y="594" width="1" height="52" fill="#c0c0c0" />
<rect x="562" y="591" width="1" height="55" fill="#c0c0c0" />
<rect x="570" y="596" width="1" height="50" fill="#c0c0c0" />
<rect x="578" y="602" width="1" height="44" fill="#c0c0c0" />
<rect x="586" y="606" width="1" height="40" fill="#c0c0c0" />
<rect x="594" y="610" width="1" height="36" fill="#c0c0c0" />
<rect x="602" y="617" width="1" height="29" fill="#c0c0c0" />
<rect x="610" y="617" width="1" height="29" fill="#c0c0c0" />
<rect x="618" y="623" width="1" height="23" fill="#c0c0c0" />
<rect x="626" y="633" width="1" height="13" fill="#c0c0c0" />
<rect x="634" y="645" width="1" height="1" fill="#c0c0c0" />
<rect x="642" y="645" width="1" height="12" fill="#c0c0c0" />
<rect x="650" y="645" width="1" height="21" fill="#c0c0c0" />
<rect x="658" y="645" width="1" height="26" fill="#c0c0c0" />
<rect x="666" y="645" width="1" height="29" fill="#c0c0c0" />
<rect x="674" y="645" width="1" height="25" fill="#c0c0c0" />
<rect x="682" y="645" width="1" height="24" fill="#c0c0c0" />
<rect x="690" y="645" width="1" height="24" fill="#c0c0c0" />
<rect x="698" y="645" width="1" height="25" fill="#c0c0c0" />
<rect x="706" y="645" width="1" height="28" fill="#c0c0c0" />
<rect x="714" y="645" width="1" height="27" fill="#c0c0c0" />
<rect x="722" y="645" width="1" height="29" fill="#c0c0c0" />
<rect x="730" y="645" width="1" height="29" fill="#c0c0c0" />
<rect x="738" y="645" width="1" height="29" fill="#c0c0c0" />
<rect x="746" y="645" width="1" height="24" fill="#c0c0c0" />
<rect x="754" y="645" width="1" height="21" fill="#c0c0c0" />
<rect x="762" y="645" width="1" height="7" fill="#c0c0c0" />
<rect x="770" y="643" width="1" height="3" fill="#c0c0c0" />
<rect x="778" y="634" width="1" height="12" fill="#c0c0c0" />
<rect x="786" y="623" width="1" height="23" fill="#c0c0c0" />
<rect x="794" y="628" width="1" height="18" fill="#c0c0c0" />
<rect x="802" y="641" width="1" height="5" fill="#c0c0c0" />
<rect x="810" y="645" width="1" height="4" fill="#c0c0c0" />
<rect x="818" y="645" width="1" height="15" fill="#c0c0c0" />
<rect x="826" y="645" width="1" height="27" fill="#c0c0c0" />
<rect x="834" y="645" width="1" height="37" fill="#c0c0c0" />
<rect x="842" y="645" width="1" height="45" fill="#c0c0c0" />
<rect x="850" y="645" width="1" height="51" fill="#c0c0c0" />
<rect x="858" y="645" width="1" height="51" fill="#c0c0c0" />
<rect x="866" y="645" width="1" height="44" fill="#c0c0c0" />
<rect x="874" y="645" width="1" height="37" fill="#c0c0c0" />
<rect x="882" y="645" width="1" height="35" fill="#c0c0c0" />
<rect x="890" y="645" width="1" height="35" fill="#c0c0c0" />
<rect x="898" y="645" width="1" height="33" fill="#c0c0c0" />
<rect x="906" y="645" width="1" height="31" fill="#c0c0c0" />
<rect x="914" y="645" width="1" height="31" fill="#c0c0c0" />
<rect x="922" y="645" width="1" height="29" fill="#c0c0c0" />
<rect x="930" y="645" width="1" height="27" fill="#c0c0c0" />
<rect x="938" y="645" width="1" height="27" fill="#c0c0c0" />
<rect x="946" y="645" width="1" height="35" fill="#c0c0c0" />
<rect x="954" y="645" width="1" height="39" fill="#c0c0c0" />
<rect x="962" y="645" width="1" height="40" fill="#c0c0c0" />
<rect x="970" y="645" width="1" height="43" fill="#c0c0c0" />
<rect x="978" y="645" width="1" height="45" fill="#c0c0c0" />
<rect x="986" y="645" width="1" height="45" fill="#c0c0c0" />
<rect x="994" y="645" width="1" height="51" fill="#c0c0c0" />
<rect x="1002" y="645" width="1" height="55" fill="#c0c0c0" />
<rect x="1010" y="645" width="1" height="63" fill="#c0c0c0" />
<rect x="1018" y="645" width="1" height="75" fill="#c0c0c0" />
<rect x="1026" y="645" width="1" height="84" fill="#c0c0c0" />
<rect x="1034" y="645" width="1" height="88" fill="#c0c0c0" />
<rect x="1042" y="645" width="1" height="89" fill="#c0c0c0" />
<rect x="1050" y="645" width="1" height="87" fill="#c0c0c0" />
<rect x="1058" y="645" width="1" height="94" fill="#c0c0c0" />
<rect x="1066" y="645" width="1" height="94" fill="#c0c0c0" />
<rect x="1074" y="645" width="1" height="95" fill="#c0c0c0" />
<rect x="1082" y="645" width="1" height="94" fill="#c0c0c0" />
<rect x="1090" y="645" width="1" height="97" fill="#c0c0c0" />
<rect x="1098" y="645" width="1" height="94" fill="#c0c0c0" />
<rect x="1106" y="645" width="1" height="94" fill="#c0c0c0" />
<rect x="1114" y="645" width="1" height="85" fill="#c0c0c0" />
<rect x="1122" y="645" width="1" height="77" fill="#c0c0c0" />
<rect x="1130" y="645" width="1" height="66" fill="#c0c0c0" />
<rect x="1138" y="645" width="1" height="53" fill="#c0c0c0" />
<rect x="1146" y="645" width="1" height="46" fill="#c0c0c0" />
<rect x="1154" y="645" width="1" height="39" fill="#c0c0c0" />
<rect x="1162" y="645" width="1" height="35" fill="#c0c0c0" />
<rect x="1170" y="645" width="1" height="32" fill="#c0c0c0" />
<rect x="1178" y="645" width="1" height="30" fill="#c0c0c0" />
<rect x="1186" y="645" width="1" height="35" fill="#c0c0c0" />
<rect x="1194" y="645" width="1" height="41" fill="#c0c0c0" />
<rect x="1202" y="645" width="1" height="44" fill="#c0c0c0" />
<rect x="1210" y="645" width="1" height="40" fill="#c0c0c0" />
<rect x="1218" y="645" width="1" height="47" fill="#c0c0c0" />
<rect x="1226" y="645" width="1" height="53" fill="#c0c0c0" />
<rect x="1234" y="645" width="1" height="55" fill="#c0c0c0" />
<rect x="1242" y="645" width="1" height="53" fill="#c0c0c0" />
<rect x="1250" y="645" width="1" height="50" fill="#c0c0c0" />
<rect x="1258" y="645" width="1" height="44" fill="#c0c0c0" />
<rect x="1266" y="645" width="1" height="45" fill="#c0c0c0" />
<rect x="1274" y="645" width="1" height="45" fill="#c0c0c0" />
<rect x="1282" y="645" width="1" height="47" fill="#c0c0c0" />
<rect x="1290" y="645" width="1" height="44" fill="#c0c0c0" />
<rect x="1298" y="645" width="1" height="37" fill="#c0c0c0" />
<rect x="1306" y="645" width="1" height="35" fill="#c0c0c0" />
<rect x="1314" y="645" width="1" height="35" fill="#c0c0c0" />
<rect x="1322" y="645" width="1" height="36" fill="#c0c0c0" />
<rect x="1330" y="645" width="1" height="40" fill="#c0c0c0" />
<rect x="1338" y="645" width="1" height="34" fill="#c0c0c0" />
<rect x="1346" y="645" width="1" height="30" fill="#c0c0c0" />
<rect x="1354" y="645" width="1" height="26" fill="#c0c0c0" />
<rect x="1362" y="645" width="1" height="26" fill="#c0c0c0" />
<rect x="1370" y="645" width="1" height="15" fill="#c0c0c0" />
<rect x="1378" y="645" width="1" height="5" fill="#c0c0c0" />
<rect x="1386" y="642" width="1" height="4" fill="#c0c0c0" />
<rect x="1394" y="634" width="1" height="12" fill="#c0c0c0" />
<rect x="1402" y="634" width="1" height="12" fill="#c0c0c0" />
<rect x="1410" y="634" width="1" height="12" fill="#c0c0c0" />
<rect x="1418" y="636" width="1" height="10" fill="#c0c0c0" />
<rect x="1426" y="635" width="1" height="11" fill="#c0c0c0" />
<rect x="1434" y="640" width="1" height="6" fill="#c0c0c0" />
<rect x="1442" y="645" width="1" height="1" fill="#c0c0c0" />
<rect x="1450" y="641" width="1" height="5" fill="#c0c0c0" />
<rect x="1458" y="645" width="1" height="1" fill="#c0c0c0" />
<rect x="1466" y="645" width="1" height="7" fill="#c0c0c0" />
<rect x="1474" y="645" width="1" height="11" fill="#c0c0c0" />
<rect x="1482" y="645" width="1" height="13" fill="#c0c0c0" />
<rect x="1490" y="645" width="1" height="16" fill="#c0c0c0" />
<rect x="1498" y="645" width="1" height="23" fill="#c0c0c0" />
<rect x="1506" y="645" width="1" height="24" fill="#c0c0c0" />
</g>
<polyline points="0.0,671.2 20.0,671.0 37.0,669.0 55.0,666.0 75.0,663.5 90.0,664.8 100.0,669.5 110.0,673.8 120.0,680.0 130.0,686.2 140.0,693.8 150.0,698.8 162.0,703.0 175.0,706.2 187.0,708.8 200.0,710.5 212.0,709.0 225.0,707.2 237.0,707.2 250.0,708.5 270.0,708.8 280.0,711.2 290.0,714.0 300.0,717.5 312.0,719.2 340.0,720.0 350.0,721.2 362.0,722.5 375.0,724.0 390.0,726.0 400.0,726.5 410.0,726.2 418.0,724.0 425.0,720.5 432.0,716.2 445.0,706.2 457.0,697.0 470.0,686.2 482.0,675.0 495.0,667.5 507.0,661.8 520.0,653.8 532.0,643.8 545.0,631.2 557.0,619.5 570.0,607.5 577.0,603.8 590.0,600.8 600.0,600.5 612.0,603.0 625.0,609.5 637.0,619.0 650.0,630.8 662.0,642.5 675.0,652.5 690.0,662.5 700.0,667.0 712.0,671.2 725.0,672.5 745.0,672.5 760.0,670.8 775.0,665.0 787.0,656.2 800.0,647.5 812.0,645.0 825.0,644.8 837.0,649.5 845.0,656.0 850.0,660.0 862.0,671.2 872.0,680.0 880.0,682.0 890.0,686.2 905.0,686.2 917.0,683.8 930.0,678.8 940.0,677.2 955.0,677.5 965.0,678.8 975.0,681.2 990.0,683.8 1002.0,688.8 1015.0,696.2 1027.0,702.5 1040.0,711.2 1052.0,717.5 1065.0,727.5 1077.0,733.0 1090.0,737.5 1102.0,738.8 1117.0,738.0 1127.0,735.0 1140.0,728.8 1152.0,721.2 1165.0,711.2 1177.0,701.2 1190.0,690.0 1200.0,685.5 1212.0,684.2 1225.0,685.0 1237.0,687.5 1250.0,691.2 1262.0,693.0 1273.0,693.8 1280.0,694.5 1290.0,694.2 1300.0,691.2 1312.0,686.2 1330.0,683.8 1350.0,680.0 1365.0,676.2 1377.0,672.5 1390.0,666.2 1400.0,660.0 1410.0,653.8 1422.0,647.5 1432.0,642.5 1442.0,637.5 1450.0,635.5 1460.0,636.2 1472.0,638.8 1485.0,643.2 1495.0,647.5 1506.0,656.2" fill="none" stroke="#ff0000" stroke-width="1" stroke-dasharray="3 3" shape-rendering="crispEdges"/>
<g class="crisp">
<line x1="0" y1="789.5" x2="1684" y2="789.5" stroke="#c0c0c0" stroke-width="1" stroke-dasharray="3 3"/>
<line x1="0" y1="840.5" x2="1684" y2="840.5" stroke="#c0c0c0" stroke-width="1" stroke-dasharray="3 3"/>
<line x1="0" y1="901.5" x2="1684" y2="901.5" stroke="#c0c0c0" stroke-width="1" stroke-dasharray="3 3"/>
</g>
<polyline points="2.5,845.0 10.5,843.0 18.5,841.8 26.5,839.2 34.5,841.2 42.5,855.0 50.5,844.5 58.5,843.2 66.5,844.5 74.5,851.2 82.5,862.5 90.5,865.5 98.5,867.5 106.5,863.2 114.5,863.2 122.5,873.2 130.5,864.2 138.5,868.2 146.5,854.2 154.5,858.2 162.5,854.2 170.5,855.5 178.5,868.2 186.5,871.5 194.5,860.0 202.5,848.2 210.5,848.2 218.5,853.2 226.5,858.2 234.5,866.2 242.5,869.5 250.5,862.5 258.5,862.5 266.5,865.8 274.5,873.2 282.5,862.5 290.5,866.5 298.5,863.5 306.5,864.5 314.5,856.8 322.5,863.8 330.5,866.5 338.5,868.2 346.5,872.0 354.5,873.5 362.5,878.2 370.5,874.2 378.5,875.5 386.5,852.5 394.5,865.2 402.5,859.2 410.5,855.0 418.5,832.2 426.5,844.2 434.5,839.5 442.5,838.2 450.5,840.0 458.5,841.5 466.5,838.2 474.5,840.0 482.5,846.2 490.5,838.2 498.5,837.5 506.5,821.2 514.5,822.5 522.5,811.2 530.5,819.5 538.5,814.2 546.5,817.5 554.5,822.5 562.5,818.0 570.5,833.0 578.5,837.5 586.5,834.2 594.5,835.8 602.5,843.2 610.5,832.5 618.5,842.5 626.5,853.0 634.5,860.0 642.5,860.0 650.5,863.8 658.5,857.5 666.5,855.0 674.5,840.5 682.5,847.0 690.5,848.5 698.5,846.2 706.5,857.5 714.5,850.5 722.5,853.2 730.5,851.5 738.5,850.5 746.5,838.2 754.5,841.5 762.5,822.5 770.5,821.5 778.5,821.5 786.5,814.5 794.5,842.0 802.5,857.5 810.5,853.2 818.5,858.2 826.5,864.5 834.5,864.5 842.5,866.5 850.5,861.2 858.5,856.8 866.5,842.0 874.5,843.2 882.5,844.2 890.5,852.0 898.5,846.2 906.5,849.2 914.5,849.5 922.5,848.2 930.5,850.0 938.5,852.0 946.5,865.5 954.5,863.2 962.5,858.2 970.5,864.2 978.5,864.2 986.5,862.2 994.5,871.2 1002.5,873.0 1010.5,878.2 1018.5,888.0 1026.5,888.0 1034.5,880.5 1042.5,876.8 1050.5,874.2 1058.5,884.5 1066.5,875.0 1074.5,877.5 1082.5,874.2 1090.5,882.5 1098.5,869.2 1106.5,871.5 1114.5,857.5 1122.5,852.5 1130.5,843.8 1138.5,836.5 1146.5,845.5 1154.5,842.2 1162.5,845.2 1170.5,845.2 1178.5,849.2 1186.5,861.8 1194.5,866.2 1202.5,864.2 1210.5,850.2 1218.5,865.2 1226.5,866.5 1234.5,863.0 1242.5,857.5 1250.5,853.2 1258.5,843.5 1266.5,854.0 1274.5,855.0 1282.5,862.5 1290.5,847.5 1298.5,839.2 1306.5,842.5 1314.5,846.2 1322.5,860.0 1330.5,855.8 1338.5,845.0 1346.5,843.8 1354.5,840.5 1362.5,848.2 1370.5,830.0 1378.5,828.0 1386.5,831.2 1394.5,833.0 1402.5,826.2 1410.5,837.0 1418.5,837.5 1426.5,831.2 1434.5,839.5 1442.5,843.8 1450.5,846.2 1458.5,852.0 1466.5,852.5 1474.5,852.0 1482.5,851.2 1490.5,853.8 1498.5,863.2 1506.5,851.2" fill="none" stroke="#1e90ff" stroke-width="1" shape-rendering="crispEdges"/>
<line x1="1120.0" y1="741.0" x2="1427.1" y2="633.3" stroke="#ff0000" stroke-width="3.3"/>
<polygon points="1438.0,629.5 1428.7,637.8 1425.6,628.8" fill="#ff0000"/>
<line x1="1438.0" y1="629.5" x2="1497.6" y2="657.6" stroke="#ff0000" stroke-width="3.3"/>
<polygon points="1508.0,662.5 1495.6,661.9 1499.6,653.3" fill="#ff0000"/>
<line x1="1211.0" y1="880.0" x2="1376.9" y2="832.2" stroke="#ff0000" stroke-width="3.3"/>
<polygon points="1388.0,829.0 1378.3,836.8 1375.6,827.6" fill="#ff0000"/>
<line x1="1388.0" y1="829.0" x2="1488.9" y2="855.1" stroke="#ff0000" stroke-width="3.3"/>
<polygon points="1500.0,858.0 1487.7,859.8 1490.1,850.5" fill="#ff0000"/>
<g class="crisp">
<rect x="0" y="26" width="1685" height="1" fill="#000" />
<rect x="1684" y="26" width="1" height="902" fill="#000" />
<rect x="0" y="579" width="1685" height="1" fill="#000" />
<rect x="0" y="581" width="1685" height="1" fill="#000" />
<rect x="1684" y="580" width="1" height="1" fill="#fff" />
<rect x="1684" y="752" width="1" height="1" fill="#fff" />
<rect x="0" y="751" width="1685" height="1" fill="#000" />
<rect x="0" y="753" width="1685" height="1" fill="#000" />
<rect x="0" y="927" width="1685" height="1" fill="#000" />
<rect x="58" y="928" width="1" height="3" fill="#000" />
<rect x="122" y="928" width="1" height="3" fill="#000" />
<rect x="186" y="928" width="1" height="3" fill="#000" />
<rect x="250" y="928" width="1" height="3" fill="#000" />
<rect x="314" y="928" width="1" height="3" fill="#000" />
<rect x="378" y="928" width="1" height="3" fill="#000" />
<rect x="442" y="928" width="1" height="3" fill="#000" />
<rect x="506" y="928" width="1" height="3" fill="#000" />
<rect x="570" y="928" width="1" height="3" fill="#000" />
<rect x="634" y="928" width="1" height="3" fill="#000" />
<rect x="698" y="928" width="1" height="3" fill="#000" />
<rect x="762" y="928" width="1" height="3" fill="#000" />
<rect x="826" y="928" width="1" height="3" fill="#000" />
<rect x="890" y="928" width="1" height="3" fill="#000" />
<rect x="954" y="928" width="1" height="3" fill="#000" />
<rect x="1018" y="928" width="1" height="3" fill="#000" />
<rect x="1082" y="928" width="1" height="3" fill="#000" />
<rect x="1146" y="928" width="1" height="3" fill="#000" />
<rect x="1210" y="928" width="1" height="3" fill="#000" />
<rect x="1274" y="928" width="1" height="3" fill="#000" />
<rect x="1338" y="928" width="1" height="3" fill="#000" />
<rect x="1402" y="928" width="1" height="3" fill="#000" />
<rect x="1466" y="928" width="1" height="3" fill="#000" />
</g>
<polygon points="1508,27 1519,27 1513.5,32" fill="#c0c0c0"/>
<g class="crisp">
<rect x="1685" y="48" width="3" height="1" fill="#000" />
<rect x="1685" y="81" width="3" height="1" fill="#000" />
<rect x="1685" y="114" width="3" height="1" fill="#000" />
<rect x="1685" y="147" width="3" height="1" fill="#000" />
<rect x="1685" y="180" width="3" height="1" fill="#000" />
<rect x="1685" y="213" width="3" height="1" fill="#000" />
<rect x="1685" y="246" width="3" height="1" fill="#000" />
<rect x="1685" y="279" width="3" height="1" fill="#000" />
<rect x="1685" y="312" width="3" height="1" fill="#000" />
<rect x="1685" y="345" width="3" height="1" fill="#000" />
<rect x="1685" y="378" width="3" height="1" fill="#000" />
<rect x="1685" y="411" width="3" height="1" fill="#000" />
<rect x="1685" y="444" width="3" height="1" fill="#000" />
<rect x="1685" y="477" width="3" height="1" fill="#000" />
<rect x="1685" y="510" width="3" height="1" fill="#000" />
<rect x="1685" y="543" width="3" height="1" fill="#000" />
</g>
<text x="1690.5" y="51.7" class="ax" textLength="32.5" lengthAdjust="spacingAndGlyphs">1.36570</text>
<text x="1690.5" y="84.7" class="ax" textLength="32.5" lengthAdjust="spacingAndGlyphs">1.35890</text>
<text x="1690.5" y="117.7" class="ax" textLength="32.5" lengthAdjust="spacingAndGlyphs">1.35210</text>
<text x="1690.5" y="150.7" class="ax" textLength="32.5" lengthAdjust="spacingAndGlyphs">1.34530</text>
<text x="1690.5" y="183.7" class="ax" textLength="32.5" lengthAdjust="spacingAndGlyphs">1.33850</text>
<text x="1690.5" y="216.7" class="ax" textLength="32.5" lengthAdjust="spacingAndGlyphs">1.33150</text>
<text x="1690.5" y="249.7" class="ax" textLength="32.5" lengthAdjust="spacingAndGlyphs">1.32470</text>
<text x="1690.5" y="282.7" class="ax" textLength="32.5" lengthAdjust="spacingAndGlyphs">1.31790</text>
<text x="1690.5" y="315.7" class="ax" textLength="32.5" lengthAdjust="spacingAndGlyphs">1.31110</text>
<text x="1690.5" y="348.7" class="ax" textLength="32.5" lengthAdjust="spacingAndGlyphs">1.30430</text>
<text x="1690.5" y="381.7" class="ax" textLength="32.5" lengthAdjust="spacingAndGlyphs">1.29750</text>
<text x="1690.5" y="414.7" class="ax" textLength="32.5" lengthAdjust="spacingAndGlyphs">1.29070</text>
<text x="1690.5" y="447.7" class="ax" textLength="32.5" lengthAdjust="spacingAndGlyphs">1.28390</text>
<text x="1690.5" y="480.7" class="ax" textLength="32.5" lengthAdjust="spacingAndGlyphs">1.27710</text>
<text x="1690.5" y="513.7" class="ax" textLength="32.5" lengthAdjust="spacingAndGlyphs">1.27030</text>
<text x="1690.5" y="546.7" class="ax" textLength="32.5" lengthAdjust="spacingAndGlyphs">1.26350</text>
<rect x="1686" y="464" width="41" height="11" fill="#ff0000" class="crisp"/>
<text x="1690.5" y="473.4" class="ax" style="fill:#fff" textLength="32.5" lengthAdjust="spacingAndGlyphs">1.27857</text>
<rect x="1686" y="485" width="41" height="11" fill="#ff0000" class="crisp"/>
<text x="1690.5" y="494.4" class="ax" style="fill:#fff" textLength="32.5" lengthAdjust="spacingAndGlyphs">1.27424</text>
<rect x="1686" y="512" width="41" height="11" fill="#000000" class="crisp"/>
<text x="1690.5" y="521.4" class="ax" style="fill:#fff" textLength="32.5" lengthAdjust="spacingAndGlyphs">1.26874</text>
<rect x="1686" y="528" width="41" height="11" fill="#ffa500" class="crisp"/>
<text x="1690.5" y="537.4" class="ax" style="fill:#fff" textLength="32.5" lengthAdjust="spacingAndGlyphs">1.26538</text>
<rect x="1686" y="555" width="41" height="11" fill="#0000ff" class="crisp"/>
<text x="1690.5" y="564.4" class="ax" style="fill:#fff" textLength="32.5" lengthAdjust="spacingAndGlyphs">1.25981</text>
<rect x="1686" y="572" width="41" height="11" fill="#0000ff" class="crisp"/>
<text x="1690.5" y="581.4" class="ax" style="fill:#fff" textLength="32.5" lengthAdjust="spacingAndGlyphs">1.25631</text>
<rect x="1679.5" y="468.5" width="4" height="4" fill="#fff" stroke="#ff0000" stroke-width="1" class="crisp"/>
<text x="1688" y="592" class="ax" textLength="38" lengthAdjust="spacingAndGlyphs">0.005908</text>
<text x="1688" y="649" class="ax">0.00</text>
<text x="1687" y="748" class="ax" textLength="41" lengthAdjust="spacingAndGlyphs">-0.009851</text>
<g class="crisp">
<rect x="1685" y="645" width="3" height="1" fill="#000" />
<rect x="1685" y="576" width="2" height="1" fill="#000" />
<rect x="1685" y="583" width="2" height="1" fill="#000" />
</g>
<text x="1688" y="764" class="ax">100</text>
<text x="1688" y="793" class="ax">80</text>
<text x="1688" y="844" class="ax">50</text>
<text x="1688" y="905" class="ax">15</text>
<text x="1688" y="924" class="ax">0</text>
<polygon points="0,33 3,36 0,36" fill="#000"/>
<text x="9.5" y="38" class="ax" textLength="67.5" lengthAdjust="spacingAndGlyphs" >USDCAD,Daily</text>
<text x="84.6" y="38" class="ax" textLength="32.4" lengthAdjust="spacingAndGlyphs" >1.26348</text>
<text x="120.4" y="38" class="ax" textLength="32.4" lengthAdjust="spacingAndGlyphs" >1.27015</text>
<text x="156.3" y="38" class="ax" textLength="32.4" lengthAdjust="spacingAndGlyphs" >1.26087</text>
<text x="192.2" y="38" class="ax" textLength="32.4" lengthAdjust="spacingAndGlyphs" >1.26874</text>
<text x="-0.5" y="594" class="ax" textLength="64.2" lengthAdjust="spacingAndGlyphs" >MACD(12,26,9)</text>
<text x="67.5" y="594" class="ax" textLength="40.5" lengthAdjust="spacingAndGlyphs" >-0.002190</text>
<text x="111.3" y="594" class="ax" textLength="40.4" lengthAdjust="spacingAndGlyphs" >-0.000793</text>
<text x="-2" y="766" class="ax" textLength="31.5" lengthAdjust="spacingAndGlyphs" >RSI(14)</text>
<text x="33" y="766" class="ax" textLength="32.5" lengthAdjust="spacingAndGlyphs" >44.4722</text>
<text x="-6.8" y="940" class="ax" style="font-size:9.3px">7 Jul 2020</text>
<text x="57.2" y="940" class="ax" style="font-size:9.3px">17 Jul 2020</text>
<text x="121.2" y="940" class="ax" style="font-size:9.3px">27 Jul 2020</text>
<text x="185.2" y="940" class="ax" style="font-size:9.3px">5 Aug 2020</text>
<text x="249.2" y="940" class="ax" style="font-size:9.3px">14 Aug 2020</text>
<text x="313.2" y="940" class="ax" style="font-size:9.3px">24 Aug 2020</text>
<text x="377.2" y="940" class="ax" style="font-size:9.3px">2 Sep 2020</text>
<text x="441.2" y="940" class="ax" style="font-size:9.3px">11 Sep 2020</text>
<text x="505.2" y="940" class="ax" style="font-size:9.3px">21 Sep 2020</text>
<text x="569.2" y="940" class="ax" style="font-size:9.3px">30 Sep 2020</text>
<text x="633.2" y="940" class="ax" style="font-size:9.3px">9 Oct 2020</text>
<text x="697.2" y="940" class="ax" style="font-size:9.3px">19 Oct 2020</text>
<text x="761.2" y="940" class="ax" style="font-size:9.3px">28 Oct 2020</text>
<text x="825.2" y="940" class="ax" style="font-size:9.3px">6 Nov 2020</text>
<text x="889.2" y="940" class="ax" style="font-size:9.3px">16 Nov 2020</text>
<text x="953.2" y="940" class="ax" style="font-size:9.3px">25 Nov 2020</text>
<text x="1017.2" y="940" class="ax" style="font-size:9.3px">4 Dec 2020</text>
<text x="1081.2" y="940" class="ax" style="font-size:9.3px">14 Dec 2020</text>
<text x="1145.2" y="940" class="ax" style="font-size:9.3px">23 Dec 2020</text>
<text x="1209.2" y="940" class="ax" style="font-size:9.3px">4 Jan 2021</text>
<text x="1273.2" y="940" class="ax" style="font-size:9.3px">13 Jan 2021</text>
<text x="1337.2" y="940" class="ax" style="font-size:9.3px">22 Jan 2021</text>
<text x="1401.2" y="940" class="ax" style="font-size:9.3px">1 Feb 2021</text>
<text x="1465.2" y="940" class="ax" style="font-size:9.3px">10 Feb 2021</text>
<g id="oneclick">
<rect x="0" y="46" width="216" height="64" fill="#c81818" />
<rect x="0" y="46" width="49" height="24" fill="url(#gSell)"/>
<rect x="164" y="46" width="52" height="24" fill="url(#gSell)"/>
<rect x="49" y="46" width="115" height="24" fill="#d22a2a"/>
<rect x="0" y="70" width="106" height="40" fill="url(#gPrice)"/>
<rect x="108" y="70" width="108" height="40" fill="url(#gPrice)"/>
<rect x="106" y="70" width="2" height="40" fill="#ffffff" />
<rect x="2" y="69" width="43" height="1" fill="#f08080" />
<rect x="168" y="69" width="44" height="1" fill="#f08080" />
<rect x="51.5" y="46.5" width="110" height="21" fill="#fff" stroke="#a8a8a8" stroke-width="1"/>
<rect x="52.5" y="47.5" width="19" height="19" fill="url(#gBtn)" stroke="#b8b8b8" stroke-width="1"/>
<rect x="141.5" y="47.5" width="19" height="19" fill="url(#gBtn)" stroke="#b8b8b8" stroke-width="1"/>
<polygon points="58.5,55 64.5,55 61.5,58.5" fill="#5060c0"/>
<polygon points="147.5,58.5 153.5,58.5 150.5,55" fill="#5060c0"/>
<text x="137" y="62" font-size="13" text-anchor="end" fill="#000">1.00</text>
<text x="22" y="62" font-size="12.5" text-anchor="middle" fill="#fff" textLength="26" lengthAdjust="spacingAndGlyphs">SELL</text>
<text x="189" y="62" font-size="12.5" text-anchor="middle" fill="#fff" textLength="23" lengthAdjust="spacingAndGlyphs">BUY</text>
<text x="17" y="101" font-size="11.5" font-weight="bold" fill="#fff" textLength="23.5" lengthAdjust="spacingAndGlyphs">1.26</text>
<text x="44.5" y="101" font-size="33" fill="#fff" textLength="34" lengthAdjust="spacingAndGlyphs">87</text>
<text x="83.5" y="85" font-size="12" font-weight="bold" fill="#fff">4</text>
<text x="127.5" y="101" font-size="11.5" font-weight="bold" fill="#fff" textLength="23.5" lengthAdjust="spacingAndGlyphs">1.26</text>
<text x="155" y="101" font-size="33" fill="#fff" textLength="34" lengthAdjust="spacingAndGlyphs">95</text>
<text x="194.5" y="85" font-size="12" font-weight="bold" fill="#fff">1</text>
</g>
<g id="toolbar">
<rect x="0" y="0" width="1731" height="21" fill="#f0f0f0" />
<rect x="0" y="21" width="1731" height="1" fill="#c0c0c0" />
<rect x="0" y="22" width="1731" height="1" fill="#8a8a8a" />
<rect x="0" y="23" width="1731" height="1" fill="#b8b8b8" />
<rect x="0" y="24" width="1731" height="2" fill="#ffffff" />
<rect x="1730" y="24" width="1" height="919" fill="#e8e8e8" />
<rect x="-4" y="3.2" width="11.3" height="13" rx="1" fill="#fafcff" stroke="#3a74c8" stroke-width="1.1"/>
<rect x="-2" y="5.5" width="8" height="0.8" fill="#bccff6" />
<rect x="-2" y="7.5" width="8" height="0.8" fill="#bccff6" />
<rect x="-2" y="9.5" width="8" height="0.8" fill="#bccff6" />
<rect x="-2" y="11.5" width="8" height="0.8" fill="#bccff6" />
<rect x="-2" y="13.5" width="8" height="0.8" fill="#bccff6" />
<rect x="0" y="18" width="2" height="1" fill="#000" />
<rect x="20.5" y="2.5" width="11" height="12" fill="#fdfdfd" stroke="#b0a890" stroke-width="1"/>
<path d="M23 5v7M22 7h2M27 4v8M26 6h2M30 5v6" stroke="#707890" stroke-width="1" fill="none"/>
<line x1="32" y1="14.5" x2="36.2" y2="18.6" stroke="#c89028" stroke-width="2.8" stroke-linecap="round"/>
<circle cx="27.8" cy="10.3" r="4.8" fill="#cfe2f6" fill-opacity="0.88" stroke="#7aa4dc" stroke-width="1.3"/>
<ellipse cx="27.5" cy="10" rx="1.6" ry="2.6" fill="#9ab0c8" fill-opacity="0.8"/>
<rect x="45" y="1" width="1" height="19" fill="#a8a8a8" class="crisp"/>
<path d="M55.5 2.5h7l4 4v9.5h-11z" fill="#fff" stroke="#606060" stroke-width="1"/>
<path d="M62.5 2.5v4h4" fill="none" stroke="#606060" stroke-width="1"/>
<path d="M57.5 7.5h4M57.5 9.5h6M57.5 11.5h3" stroke="#909090" stroke-width="1"/>
<path d="M65.2 8v12M59.2 14h12" stroke="#0e7a0e" stroke-width="4.6"/>
<path d="M65.2 8.6v10.8M59.8 14h10.8" stroke="#22cc22" stroke-width="3.2"/>
<text x="73.5" y="13.5" class="cj" textLength="36.5" lengthAdjust="spacingAndGlyphs">新订单</text>
<path d="M122 11.7 L128.2 3.5 L137.8 10.5 L137.6 12.6 L130.8 18.3 L122.2 13.2 Z" fill="#b07c18"/>
<path d="M122 11.7 L128.2 3.5 L137.8 10.5 L130.7 16.6 Z" fill="url(#gBook)" stroke="#b8861c" stroke-width="0.7"/>
<path d="M131 17.4 L137.4 11.8" stroke="#e8d090" stroke-width="0.8"/>
<rect x="153.5" y="2.5" width="9" height="11" fill="#58a0e8" stroke="#2868b8" stroke-width="1"/>
<rect x="155" y="4" width="4" height="6" fill="#d8ecff"/>
<path d="M152 17.5 a3 3 0 0 1 0.5 -6 a4 4 0 0 1 7.5 -0.5 a3.3 3.3 0 0 1 3.5 6.5z" fill="#e4ecf8" stroke="#7890b8" stroke-width="1"/>
<circle cx="186" cy="10" r="7.8" fill="none" stroke="#88b8a8" stroke-width="1.5"/>
<path d="M186 10 m0 -7.8 a7.8 7.8 0 0 1 3 15" fill="none" stroke="#48a848" stroke-width="1.8"/>
<circle cx="186" cy="10" r="4.6" fill="none" stroke="#6898d8" stroke-width="1.6"/>
<circle cx="186" cy="10" r="1.8" fill="#3868c8"/>
<path d="M186 10v8" stroke="#48a848" stroke-width="1.6"/>
<path d="M206 9 L221 9 L214 18 Z" fill="#f0c838" stroke="#b89018" stroke-width="1"/>
<ellipse cx="213" cy="6.5" rx="7.5" ry="3.6" fill="#58a0d8" stroke="#3878b0" stroke-width="1"/>
<ellipse cx="213" cy="5" rx="3.6" ry="2.6" fill="#78b8e8" stroke="#3878b0" stroke-width="0.8"/>
<circle cx="217.5" cy="14" r="4" fill="#e02818"/>
<rect x="216" y="12.5" width="3" height="3" fill="#fff" />
<text x="226" y="13.5" class="cj" textLength="47" lengthAdjust="spacingAndGlyphs">自动交易</text>
<rect x="281" y="0" width="1" height="21" fill="#a8a8a8" class="crisp"/>
<rect x="282" y="0" width="1" height="21" fill="#fbfbfb" />
<rect x="285" y="2" width="3" height="1" fill="#a0a0a0" class="crisp"/>
<rect x="285" y="4" width="3" height="1" fill="#a0a0a0" class="crisp"/>
<rect x="285" y="6" width="3" height="1" fill="#a0a0a0" class="crisp"/>
<rect x="285" y="8" width="3" height="1" fill="#a0a0a0" class="crisp"/>
<rect x="285" y="10" width="3" height="1" fill="#a0a0a0" class="crisp"/>
<rect x="285" y="12" width="3" height="1" fill="#a0a0a0" class="crisp"/>
<rect x="285" y="14" width="3" height="1" fill="#a0a0a0" class="crisp"/>
<rect x="285" y="16" width="3" height="1" fill="#a0a0a0" class="crisp"/>
<rect x="285" y="18" width="3" height="1" fill="#a0a0a0" class="crisp"/>
<path d="M299.5 3.5v14.5M297 15.5h14" stroke="#404040" stroke-width="1.2" fill="none"/>
<path d="M298 5.5l1.5-2 1.5 2M309.5 14l2 1.5-2 1.5" stroke="#404040" stroke-width="0.9" fill="none"/>
<path d="M305.5 5v9M305.5 6.5h2.5M303 12.5h2.5" stroke="#189838" stroke-width="1.4" fill="none"/>
<rect x="319" y="1" width="1" height="19" fill="#a8a8a8" class="crisp"/>
<rect x="320" y="0" width="24" height="21" fill="#f8f8f8"/>
<path d="M327.5 3.5v14.5M325 15.5h14" stroke="#404040" stroke-width="1.2" fill="none"/>
<path d="M326 5.5l1.5-2 1.5 2M337.5 14l2 1.5-2 1.5" stroke="#404040" stroke-width="0.9" fill="none"/>
<path d="M333.5 2.5v12" stroke="#108830" stroke-width="1.2"/>
<rect x="331.5" y="4.5" width="4" height="7" fill="#28c848" stroke="#108830" stroke-width="1"/>
<path d="M355.5 3.5v14.5M353 15.5h14" stroke="#404040" stroke-width="1.2" fill="none"/>
<path d="M354 5.5l1.5-2 1.5 2M365.5 14l2 1.5-2 1.5" stroke="#404040" stroke-width="0.9" fill="none"/>
<path d="M355.5 12 L359.5 6.5 Q362 6 364 9 L366.5 12" stroke="#189838" stroke-width="1.3" fill="none"/>
<rect x="376" y="1" width="1" height="19" fill="#a8a8a8" class="crisp"/>
<line x1="395.0" y1="11.5" x2="400.0" y2="16.5" stroke="#d8a838" stroke-width="2.6" stroke-linecap="round"/>
<circle cx="391.0" cy="8" r="5.6" fill="#d4e8fa" stroke="#5888c8" stroke-width="1.4"/>
<path d="M388.0 8h6" stroke="#2858a8" stroke-width="1.6"/>
<path d="M391.0 5v6" stroke="#2858a8" stroke-width="1.6"/>
<line x1="423.0" y1="11.5" x2="428.0" y2="16.5" stroke="#d8a838" stroke-width="2.6" stroke-linecap="round"/>
<circle cx="419.0" cy="8" r="5.6" fill="#d4e8fa" stroke="#5888c8" stroke-width="1.4"/>
<path d="M416.0 8h6" stroke="#2858a8" stroke-width="1.6"/>
<rect x="441" y="2" width="8" height="7.5" fill="#58a828"/>
<rect x="442.5" y="5" width="5" height="3" fill="#e8f0ff"/>
<rect x="450" y="2" width="8" height="7.5" fill="#2858c8"/>
<rect x="451.5" y="5" width="5" height="3" fill="#e8f0ff"/>
<rect x="441" y="10.5" width="8" height="7.5" fill="#2858c8"/>
<rect x="442.5" y="13.5" width="5" height="3" fill="#e8f0ff"/>
<rect x="450" y="10.5" width="8" height="7.5" fill="#58a828"/>
<rect x="451.5" y="13.5" width="5" height="3" fill="#e8f0ff"/>
<rect x="466" y="1" width="1" height="19" fill="#a8a8a8" class="crisp"/>
<rect x="471" y="0" width="26" height="21" fill="#f8f8f8"/>
<path d="M479.5 3.5v14.5M477 15.5h14" stroke="#404040" stroke-width="1.2" fill="none"/>
<path d="M478 5.5l1.5-2 1.5 2M489.5 14l2 1.5-2 1.5" stroke="#404040" stroke-width="0.9" fill="none"/>
<polygon points="484,5 484,12 489,8.5" fill="none" stroke="#18a838" stroke-width="1.3"/>
<rect x="498" y="1" width="1" height="19" fill="#a8a8a8" class="crisp"/>
<rect x="499" y="0" width="28" height="21" fill="#f8f8f8"/>
<path d="M507.5 3.5v14.5M505 15.5h14" stroke="#404040" stroke-width="1.2" fill="none"/>
<path d="M506 5.5l1.5-2 1.5 2M517.5 14l2 1.5-2 1.5" stroke="#404040" stroke-width="0.9" fill="none"/>
<path d="M512.5 4v10" stroke="#2868b8" stroke-width="1.3"/>
<path d="M519 8.5h-5M516 6.5l-2 2 2 2" stroke="#d83818" stroke-width="1.2" fill="none"/>
<rect x="528" y="1" width="1" height="19" fill="#a8a8a8" class="crisp"/>
<path d="M538.5 2.5h6l3.5 3.5v9h-9.5z" fill="#fff" stroke="#606060" stroke-width="1"/>
<path d="M541.5 5.5c1.5-1.5 2 0 2 1.5v4" fill="none" stroke="#606060" stroke-width="0.9"/>
<path d="M547.5 8v10M542.5 13h10" stroke="#18a818" stroke-width="3.4"/>
<polygon points="559.5,8.5 565.5,8.5 562.5,11.8" fill="#000"/>
<circle cx="584" cy="9.7" r="7.3" fill="url(#gClock)" stroke="#1860c0" stroke-width="2.2"/>
<path d="M584 5.5v4.5h3.5" stroke="#404040" stroke-width="1.1" fill="none"/>
<polygon points="598.5,8.5 604.5,8.5 601.5,11.8" fill="#000"/>
<rect x="615.5" y="2.5" width="15.5" height="14" fill="#f4f8ff" stroke="#3868b8" stroke-width="1.2"/>
<rect x="616" y="3" width="15" height="2.5" fill="#5888d8" />
<path d="M617.5 9.5l3-1 3 .5 3-2 3 0" stroke="#c03018" stroke-width="1.1" fill="none"/>
<path d="M617.5 14.5l3-1.5 3 1 3-2.5 3 1.5" stroke="#18a030" stroke-width="1.1" fill="none"/>
<polygon points="637.5,8.5 643.5,8.5 640.5,11.8" fill="#000"/>
<rect x="649" y="1" width="1" height="19" fill="#a8a8a8" class="crisp"/>
<rect x="653" y="2" width="3" height="1" fill="#a0a0a0" class="crisp"/>
<rect x="653" y="4" width="3" height="1" fill="#a0a0a0" class="crisp"/>
<rect x="653" y="6" width="3" height="1" fill="#a0a0a0" class="crisp"/>
<rect x="653" y="8" width="3" height="1" fill="#a0a0a0" class="crisp"/>
<rect x="653" y="10" width="3" height="1" fill="#a0a0a0" class="crisp"/>
<rect x="653" y="12" width="3" height="1" fill="#a0a0a0" class="crisp"/>
<rect x="653" y="14" width="3" height="1" fill="#a0a0a0" class="crisp"/>
<rect x="653" y="16" width="3" height="1" fill="#a0a0a0" class="crisp"/>
<rect x="653" y="18" width="3" height="1" fill="#a0a0a0" class="crisp"/>
<rect x="659" y="1" width="1" height="19" fill="#a8a8a8" class="crisp"/>
<rect x="660" y="0" width="24" height="21" fill="#f8f8f8"/>
<path d="M667 3.5 L667 15 L669.8 12.4 L672 17 L673.8 16.2 L671.6 11.8 L675.5 11.5 Z" fill="#383838"/>
<path d="M699.5 3v15M692 10.5h5.5M701.5 10.5h5.5" stroke="#404040" stroke-width="1.1"/>
<rect x="716" y="1" width="1" height="19" fill="#a8a8a8" class="crisp"/>
<path d="M733.5 4v13" stroke="#404040" stroke-width="1.2"/>
<path d="M756 10.5h12" stroke="#404040" stroke-width="1.2"/>
<path d="M784 16.8L796 4.6" stroke="#404040" stroke-width="1.2"/>
<path d="M811 12.5L823 3M812 17L825 7" stroke="#404040" stroke-width="1.1"/>
<path d="M814.5 8v8M818 5.5v8M821.5 3v7.5" stroke="#404040" stroke-width="0.9"/>
<text x="820.5" y="19" font-size="6.5" font-weight="bold" fill="#404040">E</text>
<line x1="839" y1="3.5" x2="853" y2="3.5" stroke="#404040" stroke-width="1" stroke-dasharray="1 1" class="crisp"/>
<line x1="839" y1="7.5" x2="853" y2="7.5" stroke="#404040" stroke-width="1" stroke-dasharray="1 1" class="crisp"/>
<line x1="839" y1="10.5" x2="853" y2="10.5" stroke="#404040" stroke-width="1" stroke-dasharray="1 1" class="crisp"/>
<line x1="839" y1="14.5" x2="848" y2="14.5" stroke="#404040" stroke-width="1" stroke-dasharray="1 1" class="crisp"/>
<text x="849" y="19" font-size="6.5" font-weight="bold" fill="#404040">F</text>
<text x="869" y="15" font-size="12.5" fill="#505050" stroke="#505050" stroke-width="0.3">A</text>
<rect x="895.5" y="3.5" width="12" height="12" fill="none" stroke="#404040" stroke-width="1" stroke-dasharray="1 1" class="crisp"/>
<path d="M898 6.5h7M901.5 6.5v7" stroke="#404040" stroke-width="1.5"/>
<path d="M923 7.5l3-3.5 3 3.5zM930.5 13.5l3 3.5 3-3.5z" fill="#404040"/>
<path d="M926.5 9.5l5 3.5" stroke="#404040" stroke-width="1.3"/>
<path d="M924 10.5l3 2M931 8.5l3 2" stroke="#404040" stroke-width="1"/>
<polygon points="943.5,8.5 949.5,8.5 946.5,11.8" fill="#000"/>
<rect x="955" y="1" width="1" height="19" fill="#a8a8a8" class="crisp"/>
<rect x="958.5" y="2" width="3" height="1" fill="#a0a0a0" class="crisp"/>
<rect x="958.5" y="4" width="3" height="1" fill="#a0a0a0" class="crisp"/>
<rect x="958.5" y="6" width="3" height="1" fill="#a0a0a0" class="crisp"/>
<rect x="958.5" y="8" width="3" height="1" fill="#a0a0a0" class="crisp"/>
<rect x="958.5" y="10" width="3" height="1" fill="#a0a0a0" class="crisp"/>
<rect x="958.5" y="12" width="3" height="1" fill="#a0a0a0" class="crisp"/>
<rect x="958.5" y="14" width="3" height="1" fill="#a0a0a0" class="crisp"/>
<rect x="958.5" y="16" width="3" height="1" fill="#a0a0a0" class="crisp"/>
<rect x="958.5" y="18" width="3" height="1" fill="#a0a0a0" class="crisp"/>
<rect x="1134" y="0" width="24" height="21" fill="#f8f8f8"/>
<text x="970.3" y="14" class="tf" textLength="12.7" lengthAdjust="spacingAndGlyphs">M1</text>
<text x="998.7" y="14" class="tf" textLength="12.7" lengthAdjust="spacingAndGlyphs">M5</text>
<text x="1024.6" y="14" class="tf" textLength="17.5" lengthAdjust="spacingAndGlyphs">M15</text>
<text x="1052.3" y="14" class="tf" textLength="18.0" lengthAdjust="spacingAndGlyphs">M30</text>
<text x="1083.5" y="14" class="tf" textLength="11.1" lengthAdjust="spacingAndGlyphs">H1</text>
<text x="1110.3" y="14" class="tf" textLength="12.7" lengthAdjust="spacingAndGlyphs">H4</text>
<text x="1139.6" y="14" class="tf" textLength="11.6" lengthAdjust="spacingAndGlyphs">D1</text>
<text x="1166.9" y="14" class="tf" textLength="14.3" lengthAdjust="spacingAndGlyphs">W1</text>
<text x="1193.5" y="14" class="tf" textLength="15.0" lengthAdjust="spacingAndGlyphs">MN</text>
<rect x="1133" y="1" width="1" height="19" fill="#a8a8a8" class="crisp"/>
<rect x="1216" y="1" width="1" height="19" fill="#a8a8a8" class="crisp"/>
<line x1="1683.3" y1="10" x2="1679" y2="14.8" stroke="#2860d0" stroke-width="2.4" stroke-linecap="round"/>
<circle cx="1686.3" cy="7" r="3.9" fill="#f4f8ff" stroke="#2860d0" stroke-width="1.3"/>
<path d="M1703.5 12 a6 5 0 0 1 12 0 a6 4.5 0 0 1 -7 4.5 l-2.5 2 l0.3-2.6 a5 4 0 0 1 -2.8 -3.9z" fill="#e4e4e4" stroke="#b8b8b8" stroke-width="1"/>
<circle cx="1717.7" cy="6.9" r="8.2" fill="url(#gBadge)"/>
<text x="1717.7" y="11.5" font-size="12" fill="#fff" stroke="#fff" stroke-width="0.3" text-anchor="middle">1</text>
</g>
</svg></body></html>
